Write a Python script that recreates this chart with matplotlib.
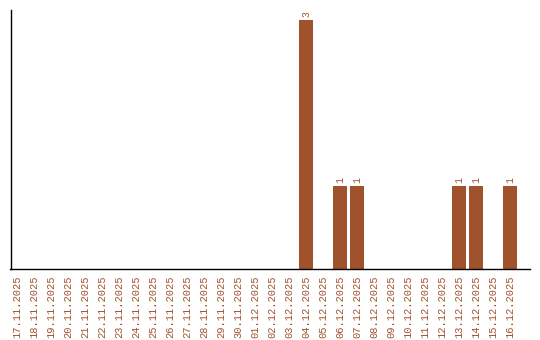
import numpy as np
import matplotlib
matplotlib.use("Agg")
import matplotlib.pyplot as plt

dates = ["17.11.2025", "18.11.2025", "19.11.2025", "20.11.2025", "21.11.2025",
         "22.11.2025", "23.11.2025", "24.11.2025", "25.11.2025", "26.11.2025",
         "27.11.2025", "28.11.2025", "29.11.2025", "30.11.2025", "01.12.2025",
         "02.12.2025", "03.12.2025", "04.12.2025", "05.12.2025", "06.12.2025",
         "07.12.2025", "08.12.2025", "09.12.2025", "10.12.2025", "11.12.2025",
         "12.12.2025", "13.12.2025", "14.12.2025", "15.12.2025", "16.12.2025"]
counts = [0, 0, 0, 0, 0, 0, 0, 0, 0, 0, 0, 0, 0, 0, 0, 0, 0, 3, 0, 1,
          1, 0, 0, 0, 0, 0, 1, 1, 0, 1]

BAR_COLOR = "#a0522d"
FONT = ["Liberation Mono", "DejaVu Sans Mono"]

fig = plt.figure(figsize=(5.4, 3.4), dpi=100)
ax = fig.add_axes([10.5 / 540, 71 / 340, 519.5 / 540, 259 / 340])

x = np.arange(len(dates))
ax.bar(x, counts, width=0.82, color=BAR_COLOR)
for xi, v in zip(x, counts):
    if v > 0:
        ax.text(xi, v + 0.03, str(v), rotation=90, ha="center", va="bottom",
                fontsize=7, family=FONT, color=BAR_COLOR)

ax.set_xlim(-0.38, 30.18)
ax.set_ylim(0, 3.12)
ax.set_xticks(x)
ax.set_xticklabels(dates, rotation=90, fontsize=7.5, family=FONT,
                   color=BAR_COLOR)
ax.tick_params(axis="x", length=0, pad=5)
ax.set_yticks([])
for s in ["top", "right"]:
    ax.spines[s].set_visible(False)
ax.spines["left"].set_linewidth(1)
ax.spines["bottom"].set_linewidth(1)

fig.savefig("out.png", dpi=100)
